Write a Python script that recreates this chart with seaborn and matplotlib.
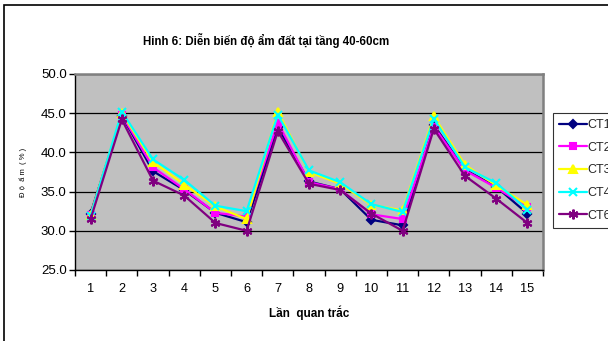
import numpy as np
import pandas as pd
import matplotlib
matplotlib.use("Agg")
import matplotlib.pyplot as plt
import seaborn as sns
from matplotlib.ticker import FixedLocator, NullFormatter, FormatStrFormatter

# Observation rounds
rounds = list(range(1, 16))

# Soil moisture (%) at 40-60 cm for each treatment
ct1 = [32.2, 44.7, 37.6, 35.2, 32.3, 31.1, 43.2, 36.3, 35.3, 31.4, 30.7, 43.5, 37.8, 35.6, 32.2]
ct2 = [32.0, 44.8, 38.1, 35.3, 32.3, 31.8, 43.8, 36.2, 35.3, 32.1, 31.5, 43.3, 37.7, 35.5, 33.0]
ct3 = [32.0, 45.0, 38.8, 35.9, 33.1, 31.5, 45.2, 37.5, 36.0, 33.3, 32.6, 44.6, 38.4, 35.8, 33.3]
ct4 = [31.9, 45.2, 39.1, 36.5, 33.2, 32.5, 44.8, 37.7, 36.2, 33.4, 32.4, 44.3, 38.1, 36.1, 32.7]
ct6 = [31.5, 44.2, 36.4, 34.5, 31.0, 30.0, 42.7, 36.0, 35.2, 32.2, 30.0, 43.0, 37.0, 34.1, 31.0]

series_names = ["CT1", "CT2", "CT3", "CT4", "CT6"]
series_values = [ct1, ct2, ct3, ct4, ct6]

df = pd.DataFrame(
    [(r, name, v) for name, vals in zip(series_names, series_values) for r, v in zip(rounds, vals)],
    columns=["round", "series", "value"],
)

colors = {"CT1": "#000080", "CT2": "#FF00FF", "CT3": "#FFFF00", "CT4": "#00FFFF", "CT6": "#800080"}
markers = {"CT1": "D", "CT2": "s", "CT3": "^", "CT4": "x", "CT6": (6, 2, 0)}
msizes = {"CT1": 4.5, "CT2": 5, "CT3": 6, "CT4": 6, "CT6": 7}

sns.set_theme(style="white")
plt.rcParams["font.family"] = ["Liberation Sans", "DejaVu Sans"]

fig = plt.figure(figsize=(6.08, 3.41), dpi=100)
ax = fig.add_axes([75 / 608, 71 / 341, 468 / 608, 196 / 341])
ax.set_facecolor("#C0C0C0")

for name in series_names:
    sub = df[df["series"] == name]
    sns.lineplot(
        data=sub, x="round", y="value", ax=ax, color=colors[name],
        marker=markers[name], markersize=msizes[name], markeredgecolor=colors[name],
        markerfacecolor=colors[name], markeredgewidth=1.5, linewidth=1.6,
        label=name, legend=False, zorder=3,
    )

ax.set_xlim(0.5, 15.5)
ax.set_ylim(25, 50)

# y axis
ax.yaxis.set_major_locator(FixedLocator(np.arange(25, 50.1, 5)))
ax.yaxis.set_major_formatter(FormatStrFormatter("%.1f"))
ax.grid(axis="y", color="black", linewidth=0.9, zorder=1)
ax.grid(axis="x", visible=False)
ax.set_axisbelow(True)

# x axis: tick marks between categories, labels at category centres
ax.xaxis.set_major_locator(FixedLocator(np.arange(0.5, 15.6, 1)))
ax.xaxis.set_major_formatter(NullFormatter())
ax.xaxis.set_minor_locator(FixedLocator(rounds))
ax.set_xticklabels([str(r) for r in rounds], minor=True)
ax.tick_params(axis="x", which="major", direction="out", length=4, width=1, color="black", bottom=True)
ax.tick_params(axis="x", which="minor", length=0, labelsize=9.2, pad=9, labelcolor="black")
ax.tick_params(axis="y", which="major", direction="out", length=4, width=1, color="black",
               left=True, labelsize=9.5, pad=2, labelcolor="black")

for side in ["left", "bottom"]:
    ax.spines[side].set_color("black")
    ax.spines[side].set_linewidth(1.0)
for side in ["top", "right"]:
    ax.spines[side].set_color("#808080")
    ax.spines[side].set_linewidth(1.8)
    ax.spines[side].set_visible(True)

ax.set_xlabel("Lần  quan trắc", fontsize=8.5, fontweight="bold", labelpad=8, color="black")
ax.set_ylabel("Đ ộ  ẩ m  ( % )", fontsize=5.5, labelpad=10, color="black")

fig.text(266 / 608, 1 - 40 / 341, "Hinh 6: Diễn biến độ ẩm đất tại tầng 40-60cm",
         ha="center", va="center", fontsize=8.3, fontweight="bold", color="black")

handles, labels = ax.get_legend_handles_labels()
leg = fig.legend(handles, labels, loc="upper left", bbox_to_anchor=(553 / 608, 1 - 113 / 341),
                 frameon=True, fontsize=9, handlelength=2.2, handletextpad=0.05,
                 labelspacing=0.85, borderpad=0.5, borderaxespad=0, fancybox=False)
leg.get_frame().set_edgecolor("black")
leg.get_frame().set_linewidth(0.8)

# outer chart border
fig.add_artist(plt.Rectangle((4 / 608, -0.1), 1.2, 1 - 5 / 341 + 0.1, transform=fig.transFigure,
                             fill=False, edgecolor="black", linewidth=1.2))

fig.savefig("out.png", dpi=100)
